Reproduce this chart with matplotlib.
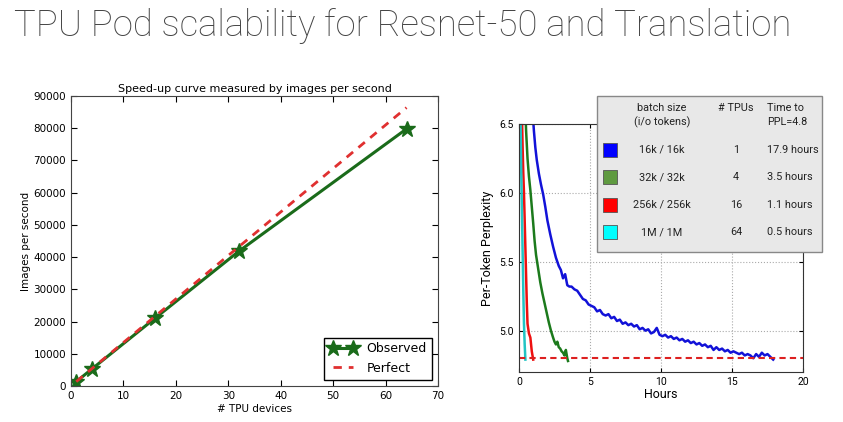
import numpy as np
import matplotlib
matplotlib.use("Agg")
import matplotlib.pyplot as plt
from matplotlib.patches import Rectangle

# ---- left chart data (Resnet-50 speed-up) ----
tpu_devices = [1, 4, 16, 32, 64]
observed_ips = [1350, 5300, 21000, 41800, 79800]
perfect_ips = [1350, 5400, 21600, 43200, 86400]

# ---- right chart data (translation perplexity vs hours) ----
blue_h = [0.95, 1.05, 1.15, 1.25, 1.4, 1.55, 1.7, 1.85, 2.0, 2.2, 2.4, 2.6, 2.8, 2.95,
          3.1, 3.25, 3.4, 3.55, 3.7, 3.9, 4.1, 4.3, 4.5, 4.7, 4.9, 5.1, 5.3, 5.5, 5.7,
          5.9, 6.1, 6.3, 6.5, 6.7, 6.9, 7.1, 7.3, 7.5, 7.7, 7.9, 8.1, 8.3, 8.5, 8.7,
          8.9, 9.1, 9.3, 9.5, 9.7, 9.9, 10.1, 10.3, 10.5, 10.7, 10.9, 11.1, 11.3, 11.5,
          11.7, 11.9, 12.1, 12.3, 12.5, 12.7, 12.9, 13.1, 13.3, 13.5, 13.7, 13.9, 14.1,
          14.3, 14.5, 14.7, 14.9, 15.1, 15.3, 15.5, 15.7, 15.9, 16.1, 16.3, 16.5, 16.7,
          16.9, 17.1, 17.3, 17.5, 17.7, 17.9]
blue_ppl = [6.60, 6.45, 6.33, 6.24, 6.14, 6.06, 5.99, 5.90, 5.80, 5.70, 5.61, 5.53, 5.47,
            5.44, 5.38, 5.41, 5.33, 5.32, 5.32, 5.30, 5.29, 5.26, 5.23, 5.22, 5.19, 5.18,
            5.17, 5.14, 5.15, 5.12, 5.11, 5.12, 5.09, 5.10, 5.07, 5.08, 5.05, 5.06, 5.04,
            5.05, 5.03, 5.04, 5.01, 5.02, 5.00, 5.01, 4.98, 4.99, 5.02, 4.97, 4.96, 4.97,
            4.95, 4.96, 4.94, 4.95, 4.93, 4.94, 4.92, 4.93, 4.91, 4.92, 4.90, 4.91, 4.89,
            4.90, 4.88, 4.89, 4.86, 4.88, 4.86, 4.87, 4.85, 4.86, 4.84, 4.85, 4.84, 4.83,
            4.84, 4.82, 4.83, 4.82, 4.80, 4.83, 4.81, 4.84, 4.82, 4.83, 4.81, 4.79]
green_h = [0.45, 0.5, 0.6, 0.7, 0.8, 0.9, 1.0, 1.1, 1.2, 1.35, 1.5, 1.65, 1.8, 1.95, 2.1,
           2.25, 2.4, 2.5, 2.6, 2.7, 2.8, 2.9, 3.0, 3.1, 3.2, 3.3, 3.4, 3.45]
green_ppl = [6.60, 6.45, 6.25, 6.12, 6.02, 5.90, 5.78, 5.65, 5.55, 5.45, 5.35, 5.27, 5.20,
             5.13, 5.06, 5.00, 4.95, 4.92, 4.90, 4.92, 4.88, 4.87, 4.85, 4.84, 4.82, 4.86,
             4.80, 4.78]
red_h = [0.2, 0.25, 0.3, 0.35, 0.4, 0.45, 0.5, 0.55, 0.6, 0.7, 0.8, 0.9, 1.0]
red_ppl = [6.60, 6.35, 6.15, 6.00, 5.80, 5.60, 5.40, 5.20, 5.05, 4.98, 4.95, 4.85, 4.79]
cyan_h = [0.1, 0.15, 0.2, 0.25, 0.3, 0.35, 0.4, 0.45]
cyan_ppl = [6.60, 6.20, 5.90, 5.60, 5.30, 5.05, 4.90, 4.79]
target_ppl = 4.8

batch_sizes = ["16k / 16k", "32k / 32k", "256k / 256k", "1M / 1M"]
num_tpus = ["1", "4", "16", "64"]
time_to_ppl = ["17.9 hours", "3.5 hours", "1.1 hours", "0.5 hours"]
line_colors = ["#1212d8", "#1c7a1c", "#ee1010", "#22c4c4"]
swatch_colors = ["#0000ff", "#5f9a40", "#ff0000", "#00ffff"]

W, H = 843, 422
fig = plt.figure(figsize=(W / 100, H / 100), dpi=100)
fig.patch.set_facecolor("white")

def px_axes(l, t, r, b):
    return fig.add_axes([l / W, 1 - b / H, (r - l) / W, (b - t) / H])

fig.text(14 / W, 1 - 36 / H, "TPU Pod scalability for Resnet-50 and Translation",
         fontsize=26.3, color="#444444", family="Roboto", fontweight="light",
         ha="left", va="baseline")

# ---------- left: speed-up ----------
ax1 = px_axes(71, 96, 438, 386)
ax1.plot(tpu_devices, observed_ips, color="#1a6b1a", lw=2.2, marker="*",
         markersize=12, label="Observed")
ax1.plot(tpu_devices, perfect_ips, color="#e03030", lw=2, ls=(0, (3, 2.5)),
         label="Perfect")
ax1.set_xlim(0, 70)
ax1.set_ylim(0, 90000)
ax1.set_xticks(range(0, 71, 10))
ax1.set_yticks(range(0, 90001, 10000))
ax1.tick_params(direction="in", top=True, right=True, labelsize=7.5, length=4)
ax1.set_title("Speed-up curve measured by images per second", fontsize=8, pad=3)
ax1.set_xlabel("# TPU devices", fontsize=7.5, labelpad=2)
ax1.set_ylabel("Images per second", fontsize=7.5, labelpad=2)
for s in ax1.spines.values():
    s.set_color("#444444")
ax1.legend(loc="lower right", numpoints=2, fancybox=False, fontsize=9,
           edgecolor="black", framealpha=1, borderaxespad=0.5, handlelength=2.2)

# ---------- right: perplexity ----------
ax2 = px_axes(519, 124, 803, 372)
ax2.plot(blue_h, blue_ppl, color=line_colors[0], lw=1.8)
ax2.plot(green_h, green_ppl, color=line_colors[1], lw=1.8)
ax2.plot(red_h, red_ppl, color=line_colors[2], lw=1.8)
ax2.plot(cyan_h, cyan_ppl, color=line_colors[3], lw=1.8)
ax2.axhline(target_ppl, color="#dd2020", lw=1.5, ls=(0, (3, 2)))
ax2.set_xlim(0, 20)
ax2.set_ylim(4.7, 6.5)
ax2.set_xticks([0, 5, 10, 15, 20])
ax2.set_yticks([5.0, 5.5, 6.0, 6.5])
ax2.grid(True, color="#aaaaaa", ls=":", lw=0.8)
ax2.tick_params(direction="in", top=True, right=True, labelsize=7.5, length=3,
                labelfontfamily="Roboto")
ax2.set_xlabel("Hours", fontsize=9, family="Roboto", labelpad=1)
ax2.set_ylabel("Per-Token Perplexity", fontsize=9, family="Roboto", labelpad=4)
for s in ax2.spines.values():
    s.set_color("#333333")

# custom legend table
leg = px_axes(597, 96, 822, 252)
leg.set_xlim(0, 225)
leg.set_ylim(156, 0)
leg.axis("off")
leg.add_patch(Rectangle((0, 0), 225, 156, facecolor="#e8e8e8", edgecolor="#888888",
                        lw=1, transform=leg.transData, clip_on=False))
tkw = dict(fontsize=7.8, family="Roboto", color="#222222", va="center")
leg.text(65, 12, "batch size", ha="center", **tkw)
leg.text(65, 26, "(i/o tokens)", ha="center", **tkw)
leg.text(139, 12, "# TPUs", ha="center", **tkw)
leg.text(170, 12, "Time to", ha="left", **tkw)
leg.text(170, 26, "PPL=4.8", ha="left", **tkw)
for i in range(len(batch_sizes)):
    y = 54 + i * 27.5
    leg.add_patch(Rectangle((6, y - 7), 14, 14, facecolor=swatch_colors[i],
                            edgecolor="#555555", lw=0.6))
    leg.text(65, y, batch_sizes[i], ha="center", **tkw)
    leg.text(139, y, num_tpus[i], ha="center", **tkw)
    leg.text(170, y, time_to_ppl[i], ha="left", **tkw)

fig.savefig("out.png", dpi=100)
